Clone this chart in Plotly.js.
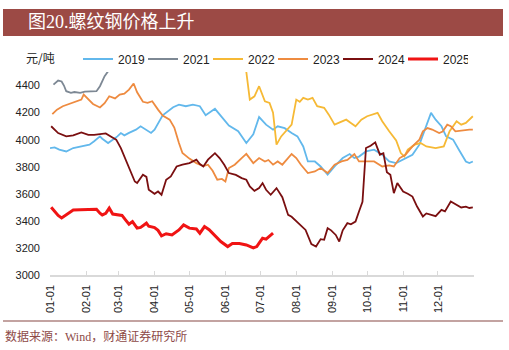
<!DOCTYPE html>
<html>
<head>
<meta charset="utf-8">
<script src="https://cdn.plot.ly/plotly-3.0.1.min.js"></script>
<style>html,body{margin:0;padding:0;background:#fff;}#chart{width:509px;height:350px;}</style>
</head>
<body>
<div id="chart"></div>
<script>
// ---- data (month-day, price in 元/吨) ----
const tickDates = ['01-01','02-01','03-01','04-01','05-01','06-01','07-01','08-01','09-01','10-01','11-01','12-01'];
const tickLabels = ['01-01','02-01','03-01','04-01','05-01','06-01','07-01','08-01','09-01','10-01','11-01','12-01'];

const d2019 = ['01-01','01-05','01-09','01-15','01-21','01-29','02-04','02-08','02-13','02-15','02-20','02-24','02-28','03-03','03-06','03-10','03-13','03-16','03-20','03-25','03-29','04-01','04-08','04-17','04-22','04-28','05-04','05-10','05-15','05-23','05-27','06-04','06-12','06-19','06-25','06-30','07-06','07-12','07-16','07-22','07-28','08-02','08-07','08-11','08-17','08-22','08-28','09-03','09-10','09-16','09-20','09-24','09-30','10-07','10-14','10-20','10-26','11-01','11-09','11-15','11-21','11-25','11-29','12-04','12-08','12-14','12-19','12-25','12-28','12-31'];
const v2019 = [3938,3943,3926,3913,3938,3950,3963,3988,4024,4007,3975,4000,4024,4049,4032,4050,4062,4074,4099,4074,4050,4074,4180,4240,4259,4247,4259,4247,4180,4228,4185,4105,4062,3975,4040,4167,4111,4074,4099,4085,4050,4024,3950,3839,3839,3802,3741,3802,3864,3894,3864,3875,3913,3926,3889,3839,3827,3852,3889,3963,4111,4198,4148,4099,4024,4000,3926,3839,3827,3839];

const d2021 = ['01-04','01-08','01-11','01-13','01-15','01-19','01-22','01-27','01-31','02-08','02-10','02-13','02-17','02-20'];
const v2021 = [4407,4437,4430,4400,4358,4346,4352,4346,4355,4358,4358,4395,4469,4505];

const d2022 = ['06-19','06-22','06-26','06-30','07-05','07-09','07-12','07-15','07-19','07-23','07-28','08-01','08-04','08-07','08-11','08-15','08-19','08-25','08-29','09-03','09-07','09-13','09-17','09-21','09-26','10-01','10-10','10-14','10-20','10-26','10-30','11-02','11-05','11-11','11-16','11-21','11-29','12-06','12-11','12-17','12-21','12-25','12-31'];
const v2022 = [4500,4296,4320,4395,4284,4272,4200,3963,4024,4062,4111,4296,4280,4309,4296,4309,4247,4235,4185,4111,4124,4148,4124,4099,4148,4173,4198,4136,4062,3995,3901,3876,3926,3963,3975,3950,3938,3950,4062,4136,4111,4124,4173];

const d2023 = ['01-03','01-07','01-12','01-18','01-24','01-28','01-30','02-03','02-07','02-13','02-17','02-21','02-26','03-02','03-06','03-10','03-14','03-17','03-22','03-26','03-30','04-04','04-08','04-14','04-18','04-22','04-25','05-01','05-07','05-13','05-17','05-21','05-25','05-29','06-01','06-04','06-09','06-15','06-19','06-25','06-30','07-05','07-08','07-12','07-16','07-20','07-28','08-01','08-05','08-11','08-17','08-22','08-28','09-03','09-09','09-14','09-20','09-24','09-30','10-07','10-14','10-20','10-24','10-29','11-03','11-09','11-15','11-18','11-22','11-26','12-02','12-05','12-09','12-12','12-16','12-22','12-28','12-31'];
const v2023 = [4188,4222,4247,4264,4279,4296,4333,4296,4264,4238,4270,4321,4305,4333,4340,4370,4415,4350,4280,4272,4284,4222,4178,4148,4090,3975,3901,3860,3827,3805,3815,3770,3704,3710,3691,3790,3815,3864,3895,3827,3864,3839,3850,3815,3839,3815,3894,3864,3815,3753,3765,3790,3753,3815,3839,3850,3894,3839,3839,3839,3802,3810,3802,3864,3889,3950,4000,4062,4086,4075,4049,4060,4111,4100,4062,4070,4074,4074];

const d2024 = ['01-02','01-08','01-15','01-21','01-28','02-03','02-08','02-13','02-18','02-23','02-27','03-03','03-07','03-12','03-15','03-17','03-22','03-25','03-27','04-01','04-04','04-07','04-11','04-15','04-20','04-25','05-01','05-07','05-10','05-13','05-17','05-23','05-27','05-31','06-04','06-10','06-15','06-19','06-22','06-26','06-30','07-03','07-06','07-10','07-15','07-20','07-25','07-28','08-01','08-05','08-09','08-14','08-18','08-22','08-25','08-28','08-31','09-04','09-07','09-10','09-14','09-17','09-21','09-24','09-27','09-30','10-04','10-08','10-10','10-12','10-15','10-18','10-21','10-24','10-27','11-01','11-05','11-09','11-13','11-18','11-21','11-25','11-29','12-04','12-07','12-12','12-17','12-21','12-25','12-28','12-31'];
const v2024 = [4099,4049,4024,4032,4054,4035,4035,4040,4046,4020,4000,3938,3852,3745,3691,3680,3741,3725,3630,3600,3617,3593,3704,3728,3802,3815,3827,3852,3820,3802,3852,3900,3864,3815,3753,3740,3716,3704,3654,3622,3642,3679,3630,3593,3642,3575,3444,3430,3400,3370,3333,3228,3210,3265,3260,3346,3330,3296,3247,3330,3383,3375,3395,3469,3540,3938,3955,3980,3926,3889,3900,3760,3741,3605,3679,3617,3600,3580,3506,3432,3455,3444,3435,3481,3470,3543,3515,3499,3505,3495,3499];

const d2025 = ['01-02','01-05','01-08','01-11','01-14','01-18','01-21','01-27','02-01','02-10','02-13','02-15','02-18','02-21','02-24','02-28','03-04','03-07','03-10','03-13','03-17','03-20','03-25','03-27','04-01','04-04','04-07','04-11','04-14','04-16','04-22','04-26','05-01','05-07','05-10','05-14','05-18','05-24','05-28','06-03','06-07','06-13','06-19','06-25','06-28','06-30','07-03','07-06','07-09','07-12'];
const v2025 = [3500,3469,3440,3422,3440,3469,3481,3482,3484,3486,3457,3444,3455,3494,3450,3444,3440,3407,3375,3395,3346,3352,3383,3360,3350,3330,3290,3305,3300,3296,3333,3370,3346,3340,3309,3358,3335,3284,3247,3210,3232,3232,3222,3200,3210,3235,3272,3265,3284,3309];

const seriesNames = ['2019','2021','2022','2023','2024','2025'];
const seriesDates = [d2019, d2021, d2022, d2023, d2024, d2025];
const seriesValues = [v2019, v2021, v2022, v2023, v2024, v2025];
const seriesColors = ['#62B8EC','#7D8894','#F6B935','#EE8B40','#7A0F10','#F01414'];
const seriesWidths = [1.8,1.8,1.8,1.8,1.8,3];

const Y = '2019-';
const traces = seriesNames.map((n,i) => ({
  type:'scatter', mode:'lines', name:n,
  x: seriesDates[i].map(d => Y + d),
  y: seriesValues[i],
  line:{color:seriesColors[i], width:seriesWidths[i]},
  hoverinfo:'skip'
}));

// pixel helpers for decorations (plot area: x 50..474, y 72..275)
const L = 50, R = 35, T = 72, B = 75, W = 509, H = 350;
const pw = W - L - R, ph = H - T - B;
const px = v => (v - L) / pw;
const py = v => (H - B - v) / ph;

const layout = {
  width: W, height: H,
  margin:{l:L, r:R, t:T, b:B, pad:0},
  paper_bgcolor:'#ffffff', plot_bgcolor:'#ffffff',
  font:{family:'Liberation Sans, Arial, sans-serif', size:11, color:'#222'},
  showlegend:true,
  legend:{orientation:'h', x:px(78), xanchor:'left', y:py(59), yanchor:'middle',
          font:{size:12, color:'#222', family:'Liberation Sans, Arial, sans-serif'},
          entrywidth:20, entrywidthmode:'pixels', itemwidth:30, tracegroupgap:0,
          bgcolor:'rgba(0,0,0,0)'},
  xaxis:{type:'date', range:[Y+'01-01','2020-01-01'],
         tickvals: tickDates.map(d => Y + d), ticktext: tickLabels,
         tickangle:-90, ticks:'inside', ticklen:4, tickcolor:'#D9D9D9',
         showline:true, linecolor:'#D9D9D9', linewidth:1.5,
         showgrid:false, zeroline:false, ticklabelstandoff:4,
         tickfont:{size:11, color:'#222'}},
  yaxis:{range:[3000,4500], dtick:200, tick0:3000,
         showgrid:false, zeroline:false, showline:false, ticks:'',
         ticklabelstandoff:9, tickfont:{size:11, color:'#222'}},
  shapes:[
    {type:'rect', xref:'paper', yref:'paper', x0:px(3), x1:px(503), y0:py(36), y1:py(9),
     fillcolor:'#9C4A45', line:{width:0}, layer:'below'},
    {type:'line', xref:'paper', yref:'paper', x0:px(3), x1:px(503), y0:py(321), y1:py(321),
     line:{color:'#C3A3A1', width:2}}
  ],
  annotations:[
    {text:'图20.螺纹钢价格上升', xref:'paper', yref:'paper', x:px(26), y:py(22.5),
     xanchor:'left', yanchor:'middle', showarrow:false,
     font:{size:18, color:'#ffffff', family:'Liberation Serif, Noto Sans CJK SC, serif'}},
    {text:'元/吨', xref:'paper', yref:'paper', x:px(24), y:py(57),
     xanchor:'left', yanchor:'middle', showarrow:false,
     font:{size:12, color:'#222', family:'Noto Sans CJK SC, sans-serif'}},
    {text:'数据来源：Wind，财通证券研究所', xref:'paper', yref:'paper', x:px(3), y:py(336),
     xanchor:'left', yanchor:'middle', showarrow:false,
     font:{size:12, color:'#8E4A47', family:'Liberation Serif, Noto Sans CJK SC, serif'}}
  ]
};

Plotly.newPlot('chart', traces, layout, {staticPlot:true, displayModeBar:false});
</script>
</body>
</html>
